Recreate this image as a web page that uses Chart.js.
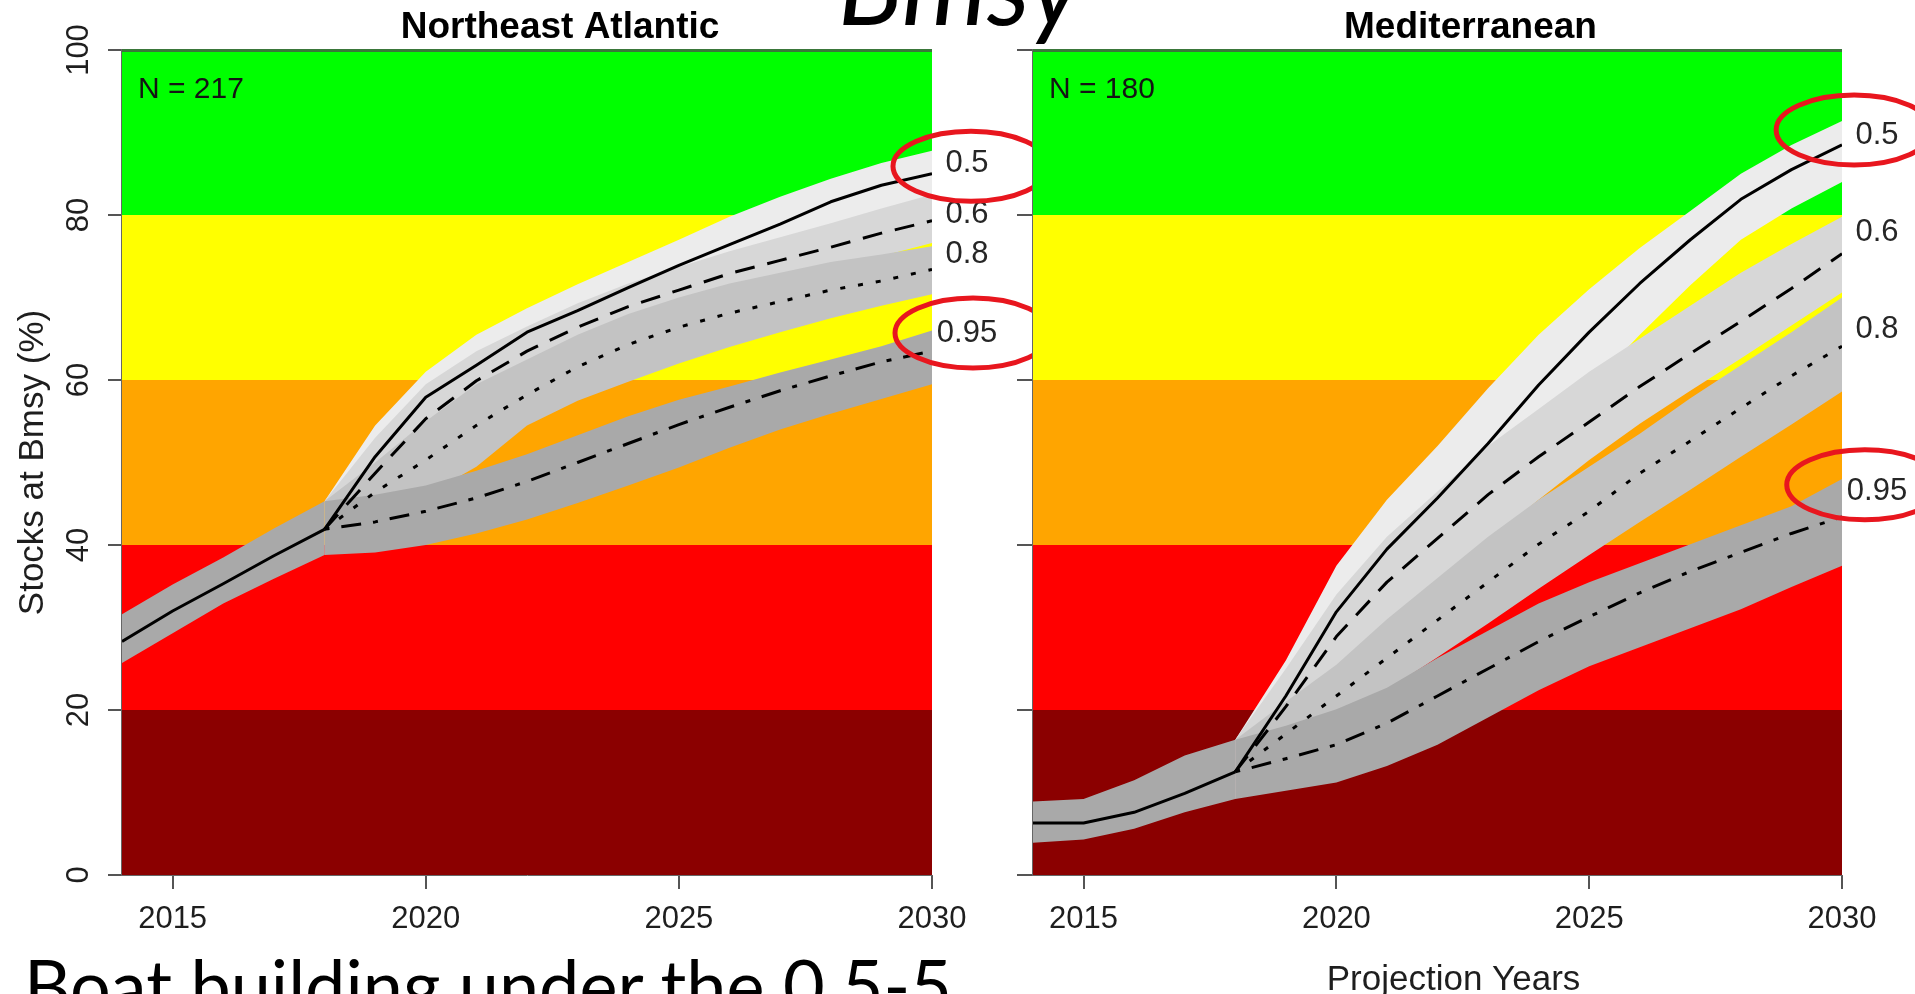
<!DOCTYPE html>
<html>
<head>
<meta charset="utf-8">
<title>Stocks at Bmsy projections</title>
<script src="https://cdn.jsdelivr.net/npm/chart.js@4.4.1/dist/chart.umd.min.js"></script>
<style>
  html, body { margin: 0; padding: 0; background: #ffffff; }
  body { width: 1915px; height: 994px; overflow: hidden; position: relative; }
  #slide { position: absolute; left: 0; top: 0; }
  .panel { position: absolute; top: 0; }
  #neaWrap { left: 0; }
  #medWrap { left: 990px; }
</style>
</head>
<body>
<svg id="slide" width="1915" height="994">
  <text x="838" y="25" font-family="Lato" font-style="italic" font-size="108" fill="#000">Bmsy</text>
  <text x="24" y="1012" font-family="Lato" font-size="72" fill="#000">Boat building under the 0.5-5</text>
</svg>
<div class="panel" id="neaWrap"><canvas id="nea" width="1060" height="994"></canvas></div>
<div class="panel" id="medWrap"><canvas id="med" width="925" height="994"></canvas></div>
<script>
// ---- axes ----
const histYears = [2014, 2015, 2016, 2017, 2018];
const projYears = [2018, 2019, 2020, 2021, 2022, 2023, 2024, 2025, 2026, 2027, 2028, 2029, 2030];
const xTicks = [2015, 2020, 2025, 2030];
const yTicks = [0, 20, 40, 60, 80, 100];
const probLevels = ['0.5', '0.6', '0.8', '0.95'];
const statusBreaks = [0, 20, 40, 60, 80, 100];

// ---- Northeast Atlantic (N = 217) ----
const neaN = 217;
const neaHist   = [28.3, 32.0, 35.3, 38.7, 41.9];
const neaHistLo = [25.7, 29.3, 32.9, 35.9, 38.8];
const neaHistHi = [31.6, 35.2, 38.5, 42.0, 45.3];
const neaP50   = [41.9, 50.7, 57.9, 61.8, 65.8, 68.4, 71.2, 73.9, 76.4, 78.9, 81.6, 83.6, 85.0];
const neaP50Lo = [38.8, 46.0, 54.0, 58.5, 62.0, 65.0, 67.8, 70.5, 73.0, 75.5, 78.0, 80.0, 81.8];
const neaP50Hi = [45.3, 54.5, 61.0, 65.5, 68.7, 71.6, 74.3, 77.0, 79.8, 82.2, 84.4, 86.3, 87.8];
const neaP60   = [41.9, 48.7, 55.3, 59.9, 63.5, 66.4, 68.9, 70.9, 72.9, 74.5, 76.1, 77.8, 79.3];
const neaP60Lo = [38.8, 44.5, 51.0, 56.3, 60.3, 63.3, 66.0, 68.1, 70.1, 71.8, 73.4, 75.0, 76.6];
const neaP60Hi = [45.3, 53.0, 59.5, 63.5, 66.5, 69.3, 71.7, 73.7, 75.6, 77.3, 79.0, 80.8, 82.5];
const neaP80   = [41.9, 46.4, 50.3, 54.5, 58.2, 61.6, 64.3, 66.4, 68.1, 69.5, 70.9, 72.0, 73.4];
const neaP80Lo = [38.8, 42.0, 46.0, 49.5, 54.5, 57.5, 59.8, 62.0, 64.0, 65.8, 67.5, 69.0, 70.4];
const neaP80Hi = [45.3, 50.0, 55.0, 59.5, 62.5, 65.5, 68.0, 70.0, 71.7, 73.0, 74.3, 75.2, 76.2];
const neaP95   = [41.9, 42.8, 44.1, 45.7, 47.7, 50.0, 52.3, 54.6, 56.7, 58.7, 60.5, 62.2, 63.5];
const neaP95Lo = [38.8, 39.1, 40.0, 41.4, 43.1, 45.1, 47.2, 49.4, 51.8, 54.0, 55.9, 57.7, 59.5];
const neaP95Hi = [45.3, 46.1, 47.2, 49.0, 51.0, 53.3, 55.6, 57.6, 59.2, 60.9, 62.5, 64.1, 66.0];

// ---- Mediterranean (N = 180) ----
const medN = 180;
const medHist   = [6.3, 6.3, 7.6, 9.9, 12.5];
const medHistLo = [3.9, 4.3, 5.6, 7.6, 9.2];
const medHistHi = [8.9, 9.2, 11.5, 14.5, 16.4];
const medP50   = [12.5, 21.7, 31.9, 39.5, 45.7, 52.3, 59.4, 65.8, 71.7, 77.0, 81.9, 85.5, 88.5];
const medP50Lo = [9.2, 17.5, 26.5, 33.5, 39.5, 45.5, 52.5, 59.0, 65.5, 71.5, 77.0, 80.8, 84.0];
const medP50Hi = [16.4, 26.0, 37.5, 45.5, 52.0, 59.0, 65.5, 71.0, 76.0, 80.5, 85.0, 88.5, 91.4];
const medP60   = [12.5, 20.4, 28.9, 35.5, 40.8, 46.1, 50.7, 54.9, 59.2, 63.2, 67.1, 71.1, 75.3];
const medP60Lo = [9.2, 15.5, 23.0, 29.5, 35.0, 40.5, 45.5, 50.3, 54.7, 58.7, 62.6, 66.6, 70.6];
const medP60Hi = [16.4, 25.0, 34.0, 41.0, 46.5, 52.0, 56.5, 61.0, 65.0, 69.0, 73.0, 76.5, 79.8];
const medP80   = [12.5, 17.1, 21.7, 26.3, 30.9, 35.5, 40.1, 44.1, 48.7, 52.6, 56.6, 60.5, 64.1];
const medP80Lo = [9.2, 14.5, 18.4, 22.4, 26.4, 30.5, 34.7, 38.8, 42.8, 46.7, 50.7, 54.6, 58.6];
const medP80Hi = [16.4, 21.0, 25.5, 31.0, 36.0, 41.0, 45.5, 49.5, 53.5, 57.8, 61.8, 65.8, 70.0];
const medP95   = [12.5, 14.1, 15.8, 18.4, 21.7, 25.0, 28.3, 31.3, 34.2, 36.8, 39.1, 41.4, 43.4];
const medP95Lo = [9.2, 10.2, 11.2, 13.2, 15.8, 19.1, 22.4, 25.3, 27.6, 29.9, 32.2, 34.9, 37.5];
const medP95Hi = [16.4, 18.1, 20.1, 22.7, 26.3, 29.6, 32.9, 35.5, 37.8, 40.1, 42.4, 44.7, 48.0];

// ---- styling ----
const statusColors = ['#8b0000', '#ff0000', '#ffa500', '#ffff00', '#00ff00'];
const bandColors = ['#ececec', '#d7d7d7', '#c3c3c3', '#a9a9a9'];
const histBandColor = '#a9a9a9';
const lineDashes = [[], [20, 13], [5, 13], [5, 12, 20, 12]];
const inkColor = '#1e1e1e';
const baseFont = '"Liberation Sans", Arial, Helvetica, sans-serif';

Chart.defaults.font.family = baseFont;
Chart.defaults.color = inkColor;

function pts(xs, ys) { return ys.map((y, i) => ({ x: xs[i], y })); }

function buildDatasets(p) {
  const ds = [];
  const hidden = { borderWidth: 0, borderColor: 'rgba(0,0,0,0)', pointRadius: 0 };
  // uncertainty ribbons: 0.5 at the bottom of the stack, 0.95 on top
  p.proj.forEach((s, k) => {
    const loIdx = ds.length;
    ds.push({ ...hidden, data: pts(projYears, s.lo), fill: false, order: 20 - k });
    ds.push({ ...hidden, data: pts(projYears, s.hi), backgroundColor: bandColors[k], fill: { target: loIdx }, order: 20 - k });
  });
  const hLo = ds.length;
  ds.push({ ...hidden, data: pts(histYears, p.histLo), fill: false, order: 10 });
  ds.push({ ...hidden, data: pts(histYears, p.histHi), backgroundColor: histBandColor, fill: { target: hLo }, order: 10 });
  // median trajectories for each probability level
  p.proj.forEach((s, k) => {
    ds.push({ data: pts(projYears, s.mid), borderColor: '#000', borderWidth: 3, borderDash: lineDashes[k],
              borderJoinStyle: 'round', pointRadius: 0, fill: false, order: 5 - k });
  });
  ds.push({ data: pts(histYears, p.hist), borderColor: '#000', borderWidth: 3, borderJoinStyle: 'round',
            pointRadius: 0, fill: false, order: 0 });
  return ds;
}

// status zones, panel title, sample size, probability labels and highlight rings
const panelDecor = {
  id: 'panelDecor',
  beforeDatasetsDraw(chart) {
    const { ctx, chartArea: a, scales: { y } } = chart;
    ctx.save();
    for (let i = 0; i < statusColors.length; i++) {
      const top = y.getPixelForValue(statusBreaks[i + 1]);
      const bot = y.getPixelForValue(statusBreaks[i]);
      ctx.fillStyle = statusColors[i];
      ctx.fillRect(a.left, top, a.right - a.left, bot - top);
    }
    ctx.restore();
  },
  afterDatasetsDraw(chart, args, o) {
    const { ctx, chartArea: a } = chart;
    ctx.save();
    ctx.fillStyle = '#3a773a';
    ctx.fillRect(a.left, a.top - 1, a.right - a.left, 3);
    ctx.fillStyle = '#141414';
    ctx.font = '30px ' + baseFont;
    ctx.textAlign = 'left';
    ctx.textBaseline = 'alphabetic';
    ctx.fillText('N = ' + o.n, a.left + 16, a.top + 48);
    ctx.restore();
  },
  afterDraw(chart, args, o) {
    const { ctx, chartArea: a, scales: { x, y } } = chart;
    ctx.save();
    ctx.fillStyle = '#000';
    ctx.font = 'bold 37px ' + baseFont;
    ctx.textAlign = 'center';
    ctx.textBaseline = 'alphabetic';
    ctx.fillText(o.title, (a.left + a.right) / 2 + o.titleShift, 38);

    if (o.xTitle) {
      ctx.fillStyle = inkColor;
      ctx.font = '35px ' + baseFont;
      ctx.fillText(o.xTitle, (a.left + a.right) / 2 + 16, 990);
    }

    ctx.fillStyle = '#262626';
    ctx.font = '31px ' + baseFont;
    ctx.textBaseline = 'middle';
    probLevels.forEach((lab, k) => {
      ctx.fillText(lab, a.right + 35, y.getPixelForValue(o.labelY[k]));
    });

    ctx.strokeStyle = '#e8161e';
    ctx.lineWidth = 5;
    o.rings.forEach(r => {
      ctx.beginPath();
      ctx.ellipse(x.getPixelForValue(r.x), y.getPixelForValue(r.y), 78, 35, 0, 0, Math.PI * 2);
      ctx.stroke();
    });
    ctx.restore();
  }
};

function makeChart(canvasId, p) {
  return new Chart(document.getElementById(canvasId), {
    type: 'line',
    data: { datasets: buildDatasets(p) },
    plugins: [panelDecor],
    options: {
      responsive: false,
      devicePixelRatio: 1,
      animation: false,
      events: [],
      layout: { padding: { top: 50, right: p.padRight, left: 0, bottom: 0 } },
      plugins: {
        legend: { display: false },
        tooltip: { enabled: false },
        panelDecor: { title: p.title, titleShift: 33, n: p.n, labelY: p.labelY, rings: p.rings, xTitle: p.xTitle }
      },
      scales: {
        x: {
          type: 'linear', min: 2014, max: 2030,
          afterBuildTicks: s => { s.ticks = xTicks.map(v => ({ value: v })); },
          afterFit: s => { s.height = 119; },
          ticks: { padding: 12, font: { size: 31 }, color: inkColor, maxRotation: 0, autoSkip: false,
                   callback: v => String(v) },
          grid: { drawOnChartArea: false, drawTicks: true, tickLength: 14, color: '#555', lineWidth: 2 },
          border: { display: true, color: '#666', width: 1 }
        },
        y: {
          min: 0, max: 100,
          afterBuildTicks: s => { s.ticks = yTicks.map(v => ({ value: v })); },
          afterFit: s => { s.width = p.yWidth; },
          ticks: { display: p.yLabels, minRotation: 90, maxRotation: 90, crossAlign: 'center', padding: 3,
                   font: { size: 31 }, color: inkColor, callback: v => String(v) },
          grid: { drawOnChartArea: false, drawTicks: true, tickLength: p.yTickLen, color: '#555', lineWidth: 2 },
          border: { display: true, color: '#666', width: 1.5 },
          title: { display: !!p.yTitle, text: p.yTitle || '', font: { size: 35 }, color: inkColor,
                   padding: { top: 12, bottom: 0 } }
        }
      }
    }
  });
}

makeChart('nea', {
  title: 'Northeast Atlantic', n: neaN, padRight: 128, yWidth: 122, yTickLen: 14, yLabels: true,
  yTitle: 'Stocks at Bmsy (%)',
  hist: neaHist, histLo: neaHistLo, histHi: neaHistHi,
  proj: [
    { mid: neaP50, lo: neaP50Lo, hi: neaP50Hi },
    { mid: neaP60, lo: neaP60Lo, hi: neaP60Hi },
    { mid: neaP80, lo: neaP80Lo, hi: neaP80Hi },
    { mid: neaP95, lo: neaP95Lo, hi: neaP95Hi }
  ],
  labelY: [86.2, 80.1, 75.2, 65.6],
  rings: [{ x: 2030.77, y: 85.9 }, { x: 2030.81, y: 65.7 }]
});

makeChart('med', {
  title: 'Mediterranean', n: medN, padRight: 73, yWidth: 43, yTickLen: 16, yLabels: false,
  xTitle: 'Projection Years',
  hist: medHist, histLo: medHistLo, histHi: medHistHi,
  proj: [
    { mid: medP50, lo: medP50Lo, hi: medP50Hi },
    { mid: medP60, lo: medP60Lo, hi: medP60Hi },
    { mid: medP80, lo: medP80Lo, hi: medP80Hi },
    { mid: medP95, lo: medP95Lo, hi: medP95Hi }
  ],
  labelY: [89.6, 77.9, 66.1, 46.5],
  rings: [{ x: 2030.24, y: 90.3 }, { x: 2030.45, y: 47.3 }]
});
</script>
</body>
</html>
